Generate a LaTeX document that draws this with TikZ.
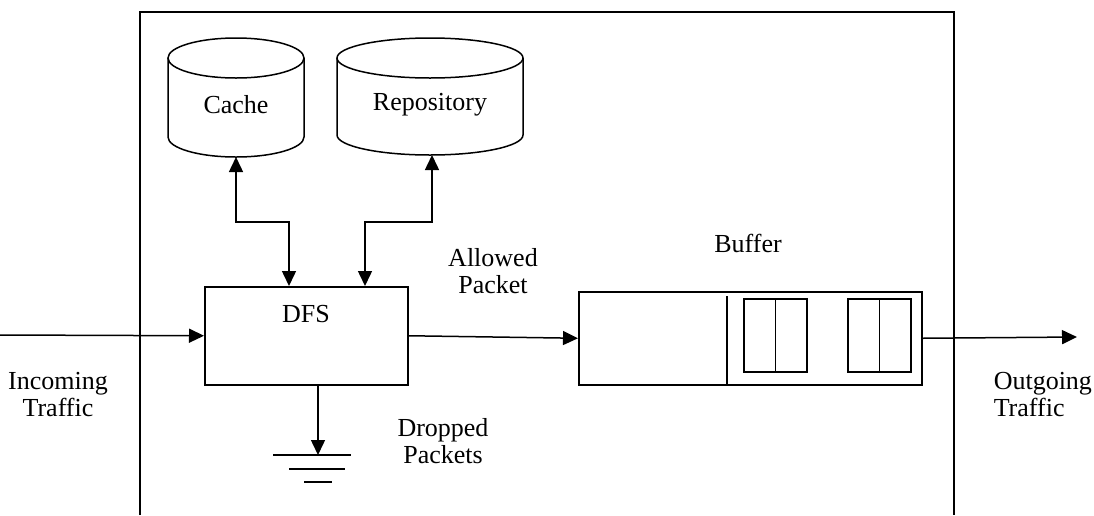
\documentclass[tikz,border=0pt]{standalone}
\usepackage{fontspec}
\setmainfont{Liberation Serif}
\usetikzlibrary{arrows.meta}
\begin{document}
\begin{tikzpicture}[x=1pt,y=-1pt,line width=1.5pt,
  tip/.style={-{Triangle[length=15pt,width=14pt]}},
  dtip/.style={{Triangle[length=15pt,width=14pt]}-{Triangle[length=15pt,width=14pt]}},
  lbl/.style={font=\fontsize{26}{27}\selectfont,inner sep=0pt,align=center},
  box/.style={draw,line width=1.5pt,anchor=north west,inner sep=0pt}]
\useasboundingbox (0,0) rectangle (1094,515);
% frame
\draw (140,515) -- (140,12) -- (954,12) -- (954,515);
% cache cylinder
\draw (168,58) -- (168,137) arc[start angle=180,end angle=360,x radius=68,y radius=-20] -- (304,58);
\draw (236,58) ellipse[x radius=68,y radius=20];
\coordinate (cacheb) at (236,157);
\node[lbl] (cache) at (236,105) {Cache};
% repository cylinder
\draw (337,58) -- (337,135) arc[start angle=180,end angle=360,x radius=93,y radius=-20] -- (523,58);
\draw (430,58) ellipse[x radius=93,y radius=20];
\coordinate (repob) at (432,155);
\node[lbl] (repo) at (430,105) {Repository};
% DFS
\node[box,minimum width=203pt,minimum height=98pt] (dfs) at (204,286) {};
\node[lbl] (dfslbl) at (306,314) {DFS};
\coordinate (dfsA) at (289,286);
\coordinate (dfsB) at (365,286);
\draw[dtip] (cacheb) -- (236,222) -- (289,222) -- (dfsA);
\draw[dtip] (repob) -- (432,222) -- (365,222) -- (dfsB);
% buffer
\node[box,minimum width=343pt,minimum height=93pt] (buf) at (578,291) {};
\draw (727,296) -- (727,384);
\node[box,minimum width=63pt,minimum height=73pt] (q1) at (743,298) {};
\draw (q1.north) -- (q1.south);
\node[box,minimum width=63pt,minimum height=73pt] (q2) at (847,298) {};
\draw (q2.north) -- (q2.south);
\node[lbl] (buflbl) at (748,243) {Buffer};
% flows
\coordinate (in) at (0,335);
\coordinate (out) at (1077,337);
\draw[tip] (in) -- (dfs.west);
\draw[tip] (dfs.east) -- (buf.west);
\draw[tip] (buf.east) -- (out);
% drop
\coordinate (dropA) at (318,384);
\coordinate (gnd) at (318,455);
\draw[tip] (dropA) -- (gnd);
\draw (273,455) -- (351,455);
\draw (289,469) -- (345,469);
\draw (304,482) -- (332,482);
% labels
\node[lbl] (allowed) at (493,271) {Allowed\\Packet};
\node[lbl] (dropped) at (443,441) {Dropped\\Packets};
\node[lbl] (incoming) at (58,395) {Incoming\\Traffic};
\node[lbl,align=left,anchor=west] (outgoing) at (993,395) {Outgoing\\Traffic};
\end{tikzpicture}
\end{document}
